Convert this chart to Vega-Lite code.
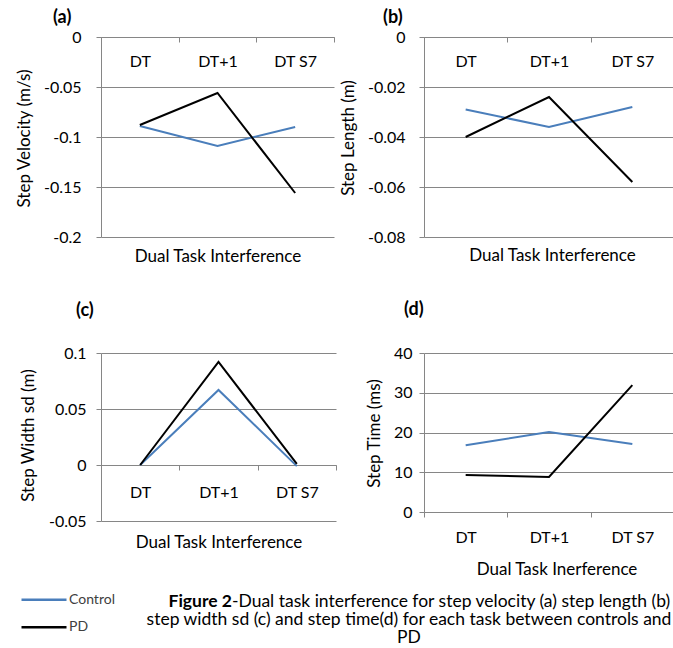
{
  "$schema": "https://vega.github.io/schema/vega-lite/v6.json",
  "padding": {"left": 15, "top": 9, "right": 0, "bottom": 0},
  "background": "white",
  "datasets": {
    "a": [
      {"task": "DT", "group": "Control", "value": -0.089},
      {"task": "DT+1", "group": "Control", "value": -0.109},
      {"task": "DT S7", "group": "Control", "value": -0.090},
      {"task": "DT", "group": "PD", "value": -0.088},
      {"task": "DT+1", "group": "PD", "value": -0.056},
      {"task": "DT S7", "group": "PD", "value": -0.156}
    ],
    "b": [
      {"task": "DT", "group": "Control", "value": -0.029},
      {"task": "DT+1", "group": "Control", "value": -0.036},
      {"task": "DT S7", "group": "Control", "value": -0.028},
      {"task": "DT", "group": "PD", "value": -0.040},
      {"task": "DT+1", "group": "PD", "value": -0.024},
      {"task": "DT S7", "group": "PD", "value": -0.058}
    ],
    "c": [
      {"task": "DT", "group": "Control", "value": 0},
      {"task": "DT+1", "group": "Control", "value": 0.067},
      {"task": "DT S7", "group": "Control", "value": -0.001},
      {"task": "DT", "group": "PD", "value": 0},
      {"task": "DT+1", "group": "PD", "value": 0.092},
      {"task": "DT S7", "group": "PD", "value": 0.001}
    ],
    "d": [
      {"task": "DT", "group": "Control", "value": 16.8},
      {"task": "DT+1", "group": "Control", "value": 20.1},
      {"task": "DT S7", "group": "Control", "value": 17.1},
      {"task": "DT", "group": "PD", "value": 9.3},
      {"task": "DT+1", "group": "PD", "value": 8.8},
      {"task": "DT S7", "group": "PD", "value": 31.9}
    ],
    "caption": [
      {"line": 1, "part": "bold", "text": "Figure 2"},
      {"line": 1, "part": "rest", "text": "-Dual task interference for step velocity (a)  step length (b)"},
      {"line": 2, "part": "center", "text": "step width sd (c) and step time(d)  for each task between controls and"},
      {"line": 3, "part": "center", "text": "PD"}
    ]
  },
  "concat": [
    {
      "width": 233, "height": 200,
      "title": {"text": "(a)", "anchor": "start", "frame": "group", "dx": -48, "offset": -12, "baseline": "alphabetic", "fontSize": 18, "fontWeight": "bold", "color": "#000000"},
      "data": {"name": "a"},
      "mark": {"type": "line", "strokeWidth": 2},
      "encoding": {
        "x": {"field": "task", "type": "nominal", "sort": ["DT", "DT+1", "DT S7"], "bandPosition": 0.5,
          "scale": {"type": "band", "paddingInner": 0, "paddingOuter": 0},
          "axis": {"orient": "bottom", "offset": -200, "title": "Dual Task Interference", "labelAngle": 0, "labelPadding": 19.5, "labelBaseline": "middle", "tickBand": "extent", "grid": false, "titleY": 224, "titleBaseline": "alphabetic"}},
        "y": {"field": "value", "type": "quantitative", "scale": {"domain": [-0.2, 0], "nice": false, "zero": false},
          "axis": {"values": [-0.2, -0.15, -0.1, -0.05, 0], "labelExpr": "'' + datum.value", "labelPadding": 15, "grid": true, "title": "Step Velocity (m/s)", "titleX": -76.5, "titleY": 101, "titleBaseline": "middle"}},
        "color": {"field": "group", "type": "nominal", "scale": {"domain": ["Control", "PD"], "range": ["#4a7ebb", "#000000"]},
          "legend": {"orient": "none", "legendX": -66, "legendY": 553.8, "title": null, "symbolType": "M-3,0H3", "symbolSize": 225, "symbolStrokeWidth": 2.5, "labelOffset": 16, "labelFontSize": 14, "labelColor": "#404040", "rowPadding": 11.4, "padding": 0}}
      }
    },
    {
      "width": 250, "height": 200,
      "title": {"text": "(b)", "anchor": "start", "frame": "group", "dx": -41, "offset": -12, "baseline": "alphabetic", "fontSize": 18, "fontWeight": "bold", "color": "#000000"},
      "data": {"name": "b"},
      "mark": {"type": "line", "strokeWidth": 2},
      "encoding": {
        "x": {"field": "task", "type": "nominal", "sort": ["DT", "DT+1", "DT S7"], "bandPosition": 0.5,
          "scale": {"type": "band", "paddingInner": 0, "paddingOuter": 0},
          "axis": {"orient": "bottom", "offset": -200, "title": "Dual Task Interference", "labelAngle": 0, "labelPadding": 19.5, "labelBaseline": "middle", "tickBand": "extent", "grid": false, "titleX": 128, "titleY": 223, "titleBaseline": "alphabetic"}},
        "y": {"field": "value", "type": "quantitative", "scale": {"domain": [-0.08, 0], "nice": false, "zero": false},
          "axis": {"values": [-0.08, -0.06, -0.04, -0.02, 0], "labelExpr": "'' + datum.value", "labelPadding": 14, "grid": true, "title": "Step Length (m)", "titleX": -75.5, "titleY": 100.5, "titleBaseline": "middle"}},
        "color": {"field": "group", "type": "nominal", "legend": null}
      }
    },
    {
      "width": 235, "height": 168,
      "title": {"text": "(c)", "anchor": "start", "frame": "group", "dx": -25, "offset": 10.8, "baseline": "alphabetic", "fontSize": 18, "fontWeight": "bold", "color": "#000000"},
      "data": {"name": "c"},
      "mark": {"type": "line", "strokeWidth": 2},
      "encoding": {
        "x": {"field": "task", "type": "nominal", "sort": ["DT", "DT+1", "DT S7"], "bandPosition": 0.5,
          "scale": {"type": "band", "paddingInner": 0, "paddingOuter": 0},
          "axis": {"orient": "bottom", "offset": -56, "title": "Dual Task Interference", "labelAngle": 0, "labelPadding": 22, "labelBaseline": "middle", "tickBand": "extent", "grid": false, "titleX": 117.5, "titleY": 82, "titleBaseline": "alphabetic"}},
        "y": {"field": "value", "type": "quantitative", "scale": {"domain": [-0.05, 0.1], "nice": false, "zero": false},
          "axis": {"values": [-0.05, 0, 0.05, 0.1], "labelExpr": "'' + datum.value", "labelPadding": 10, "grid": true, "title": "Step Width sd (m)", "titleX": -72.5, "titleY": 82, "titleBaseline": "middle"}},
        "color": {"field": "group", "type": "nominal", "legend": null}
      }
    },
    {
      "width": 250, "height": 159,
      "title": {"text": "(d)", "anchor": "start", "frame": "group", "dx": -20, "offset": 12.5, "baseline": "alphabetic", "fontSize": 18, "fontWeight": "bold", "color": "#000000"},
      "data": {"name": "d"},
      "mark": {"type": "line", "strokeWidth": 2},
      "encoding": {
        "x": {"field": "task", "type": "nominal", "sort": ["DT", "DT+1", "DT S7"], "bandPosition": 0.5,
          "scale": {"type": "band", "paddingInner": 0, "paddingOuter": 0},
          "axis": {"orient": "bottom", "title": "Dual Task Inerference", "labelAngle": 0, "labelPadding": 20, "labelBaseline": "middle", "tickBand": "extent", "grid": false, "titleX": 132.5, "titleY": 62, "titleBaseline": "alphabetic"}},
        "y": {"field": "value", "type": "quantitative", "scale": {"domain": [0, 40], "nice": false, "zero": false},
          "axis": {"values": [0, 10, 20, 30, 40], "labelPadding": 7, "grid": true, "title": "Step Time (ms)", "titleX": -50, "titleY": 80, "titleBaseline": "middle"}},
        "color": {"field": "group", "type": "nominal", "legend": null}
      }
    },
    {
      "width": 235, "height": 1,
      "data": {"name": "caption"},
      "encoding": {
        "y": {"field": "line", "type": "ordinal", "scale": {"type": "point", "padding": 0, "domain": [1, 2, 3], "range": [-30, 6]}, "axis": null},
        "text": {"field": "text", "type": "nominal"}
      },
      "layer": [
        {"transform": [{"filter": "datum.part == 'bold'"}], "mark": {"type": "text", "align": "right", "baseline": "alphabetic", "dx": 13.5, "fontSize": 17.5, "fontWeight": "bold", "color": "#000000"}},
        {"transform": [{"filter": "datum.part == 'rest'"}], "mark": {"type": "text", "align": "left", "baseline": "alphabetic", "dx": 13.5, "fontSize": 17.5, "color": "#000000"}},
        {"transform": [{"filter": "datum.part == 'center'"}], "mark": {"type": "text", "align": "center", "baseline": "alphabetic", "dx": 190.5, "fontSize": 17.5, "color": "#000000"}}
      ]
    }
  ],
  "columns": 2,
  "spacing": {"row": 116, "column": 88},
  "align": "none",
  "bounds": "flush",
  "config": {
    "font": "Lato",
    "view": {"stroke": null},
    "axis": {"domainColor": "#868686", "tickColor": "#868686", "gridColor": "#868686", "labelColor": "#000000", "titleColor": "#000000", "labelFontSize": 16, "titleFontSize": 17, "titleFontWeight": "normal", "tickSize": 5, "domainWidth": 1, "gridWidth": 1, "tickWidth": 1},
    "legend": {"labelFont": "Lato"}
  }
}
